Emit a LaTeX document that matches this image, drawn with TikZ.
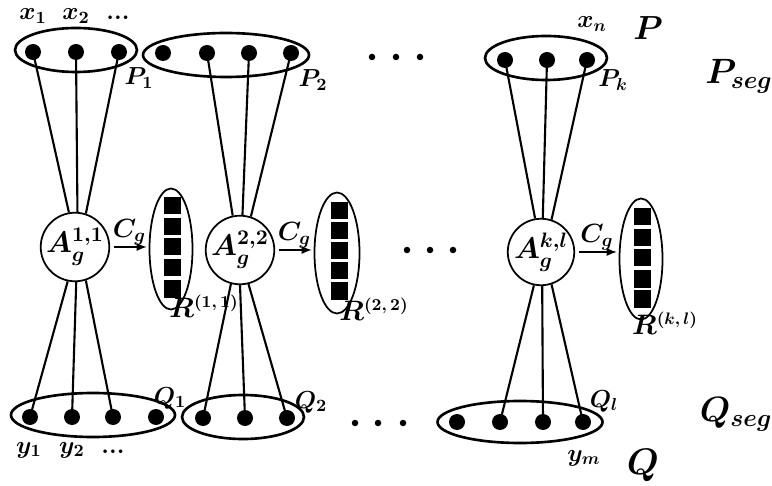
\RequirePackage{fix-cm}
\documentclass[tikz,border=0pt]{standalone}
\usepackage{amsmath}
\usetikzlibrary{arrows.meta,shapes.geometric,backgrounds}
\newcommand{\rsup}[1]{\mbox{\fontsize{9.5}{9.5}\selectfont\boldmath$#1$}}
\tikzset{
    dot/.style={circle,fill,inner sep=0pt,minimum size=3.2mm},
    grp/.style={ellipse,draw,line width=1.5pt,inner sep=0pt,minimum height=8.8mm},
    rgrp/.style={ellipse,draw,line width=1pt,inner sep=0pt,minimum width=8.6mm,minimum height=24.2mm},
    cell/.style={fill,inner sep=0pt,minimum size=3.4mm},
    agent/.style={circle,draw,line width=1pt,inner sep=0pt,minimum size=13.2mm,font=\fontsize{17}{17}\selectfont\boldmath},
    link/.style={line width=1.2pt},
    arrow/.style={-{Latex[length=2mm,width=1.6mm]},line width=0.6pt,shorten <=0.8mm,shorten >=0.4mm},
    lbl/.style={font=\fontsize{14}{14}\selectfont\boldmath},
    cglbl/.style={font=\fontsize{15}{15}\selectfont\boldmath,above,inner sep=1pt},
    midlbl/.style={font=\fontsize{16}{16}\selectfont\boldmath},
    biglbl/.style={font=\fontsize{20}{20}\selectfont\boldmath},
    ell/.style={circle,fill,inner sep=0pt,minimum size=1.3mm}
}
\begin{document}
\begin{tikzpicture}[x=0.2mm,y=-0.2mm]
    \useasboundingbox (0,0) rectangle (772,486);

    % segments of P
    \node[grp,minimum width=24.4mm] (P1) at (76,50) {};
    \node[dot] (p11) at (33,52) {};
    \node[dot] (p12) at (76,52) {};
    \node[dot] (p13) at (119,52) {};
    \node[grp,minimum width=33.2mm] (P2) at (226,55) {};
    \node[dot] (p21) at (163,53) {};
    \node[dot] (p22) at (207,53) {};
    \node[dot] (p23) at (249,53) {};
    \node[dot] (p24) at (291,53) {};
    \node[grp,minimum width=24.4mm] (Pk) at (546,58) {};
    \node[dot] (pk1) at (505,60) {};
    \node[dot] (pk2) at (547,60) {};
    \node[dot] (pk3) at (587,60) {};

    % segments of Q
    \node[grp,minimum width=32.8mm] (Q1) at (93,415) {};
    \node[dot] (q11) at (30,417) {};
    \node[dot] (q12) at (72,417) {};
    \node[dot] (q13) at (113,417) {};
    \node[dot] (q14) at (156,417) {};
    \node[grp,minimum width=24.4mm] (Q2) at (243,417) {};
    \node[dot] (q21) at (203,418) {};
    \node[dot] (q22) at (245,418) {};
    \node[dot] (q23) at (287,418) {};
    \node[grp,minimum width=33mm,minimum height=8.4mm] (Ql) at (520,422) {};
    \node[dot] (ql1) at (457,422) {};
    \node[dot] (ql2) at (500,422) {};
    \node[dot] (ql3) at (543,422) {};
    \node[dot] (ql4) at (583,422) {};

    % alignments and results
    \node[agent] (A1) at (75,247) {$A_g^{1,1}$};
    \node[agent] (A2) at (240,250) {$A_g^{2,2}$};
    \node[agent] (Ak) at (541,252) {$A_g^{k,l}$};
    \node[rgrp] (R1) at (171,249) {};
    \node[rgrp,minimum width=9mm] (R2) at (337,253) {};
    \node[rgrp] (Rk) at (641,259) {};
    \node[cell] (r11) at (172,206) {};
    \node[cell] (r12) at (172,227) {};
    \node[cell] (r13) at (172,247) {};
    \node[cell] (r14) at (172,268) {};
    \node[cell] (r15) at (172,289) {};
    \node[cell] (r21) at (339,211) {};
    \node[cell] (r22) at (339,231) {};
    \node[cell] (r23) at (339,251) {};
    \node[cell] (r24) at (339,271) {};
    \node[cell] (r25) at (339,291) {};
    \node[cell] (rk1) at (642,217) {};
    \node[cell] (rk2) at (642,238) {};
    \node[cell] (rk3) at (642,258) {};
    \node[cell] (rk4) at (642,279) {};
    \node[cell] (rk5) at (642,299) {};

    \draw[arrow] (A1.east) -- (A1.east -| R1.west) node[midway,cglbl] {$C_g$};
    \draw[arrow] (A2.east) -- (A2.east -| R2.west) node[midway,cglbl] {$C_g$};
    \draw[arrow] (Ak.east) -- (Ak.east -| Rk.west) node[midway,cglbl] {$C_g$};

    \begin{scope}[on background layer]
        \draw[link] (p11.center) -- (A1.100);
        \draw[link] (p12.center) -- (A1.86);
        \draw[link] (p13.center) -- (A1.72);
        \draw[link] (p22.center) -- (A2.102);
        \draw[link] (p23.center) -- (A2.86);
        \draw[link] (p24.center) -- (A2.72);
        \draw[link] (pk1.center) -- (Ak.100);
        \draw[link] (pk2.center) -- (Ak.87);
        \draw[link] (pk3.center) -- (Ak.72);
        \draw[link] (q11.center) -- (A1.258);
        \draw[link] (q12.center) -- (A1.272);
        \draw[link] (q13.center) -- (A1.288);
        \draw[link] (q21.center) -- (A2.255);
        \draw[link] (q22.center) -- (A2.270);
        \draw[link] (q23.center) -- (A2.284);
        \draw[link] (ql2.center) -- (Ak.258);
        \draw[link] (ql3.center) -- (Ak.272);
        \draw[link] (ql4.center) -- (Ak.288);
    \end{scope}

    % omitted segments
    \node[ell] (et1) at (372,57) {};
    \node[ell] (et2) at (396,57) {};
    \node[ell] (et3) at (420,57) {};
    \node[ell] (em1) at (407,250) {};
    \node[ell] (em2) at (430,250) {};
    \node[ell] (em3) at (453,250) {};
    \node[ell] (eb1) at (355,423) {};
    \node[ell] (eb2) at (378,423) {};
    \node[ell] (eb3) at (403,423) {};

    % labels
    \node[lbl] (x1) at (33,16) {$x_1$};
    \node[lbl] (x2) at (76,16) {$x_2$};
    \node[lbl] (xd) at (118,18) {\bfseries ...};
    \node[lbl] (xn) at (592,24) {$x_n$};
    \node[lbl] (lP1) at (139,78) {$P_1$};
    \node[lbl] (lP2) at (313,80) {$P_2$};
    \node[lbl] (lPk) at (613,80) {$P_k$};
    \node[lbl] (lQ1) at (170,398) {$Q_1$};
    \node[lbl] (lQ2) at (311,402) {$Q_2$};
    \node[lbl] (lQl) at (604,401) {$Q_l$};
    \node[lbl] (y1) at (29,450) {$y_1$};
    \node[lbl] (y2) at (72,450) {$y_2$};
    \node[lbl] (yd) at (113,452) {\bfseries ...};
    \node[lbl] (ym) at (584,458) {$y_m$};
    \node[midlbl] (lR1) at (204,306) {$R^{\rsup{(1,1)}}$};
    \node[midlbl] (lR2) at (374,309) {$R^{\rsup{(2,2)}}$};
    \node[midlbl] (lRk) at (665,323) {$R^{\rsup{(k,l)}}$};
    \node[font=\fontsize{19}{19}\selectfont\boldmath] (lP) at (648,28) {$P$};
    \node[biglbl] (lPseg) at (739,76) {$P_{seg}$};
    \node[biglbl] (lQseg) at (736,414) {$Q_{seg}$};
    \node[font=\fontsize{21}{21}\selectfont\boldmath] (lQ) at (643,465) {$Q$};
\end{tikzpicture}
\end{document}
